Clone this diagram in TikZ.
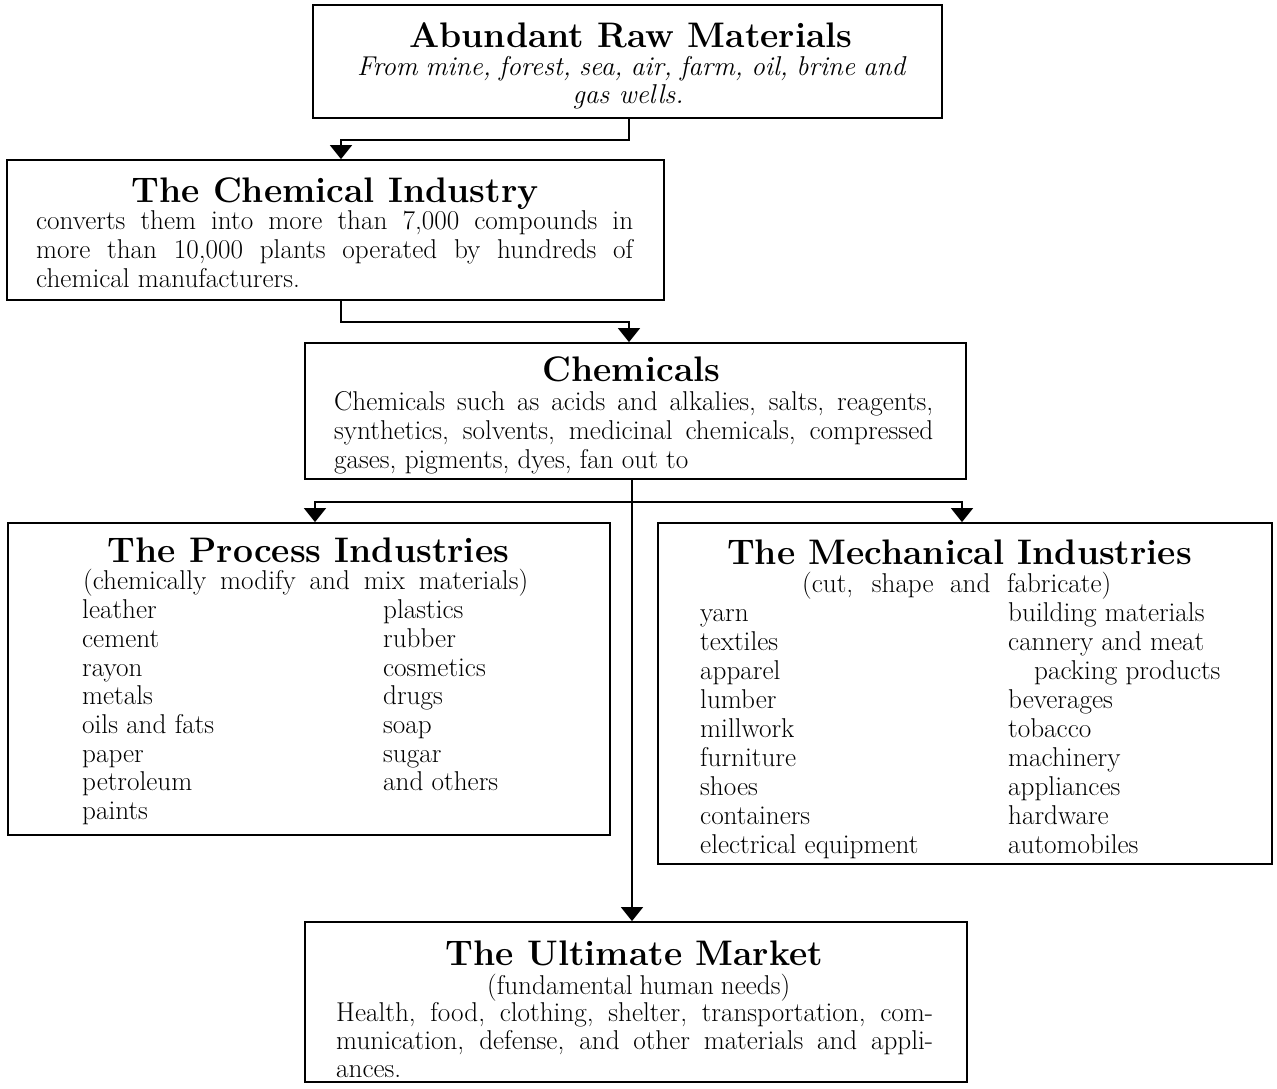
\documentclass[tikz,border=0pt]{standalone}
\usepackage{fontspec}
\usetikzlibrary{arrows.meta}
\newcommand\bodyfont{\fontsize{27.2}{29}\selectfont}
\newcommand\titlefont{\fontsize{35.5}{40}\selectfont\bfseries}
\newcommand\jline[2]{\makebox[#1pt][s]{#2}}
\begin{document}
\begin{tikzpicture}[x=1pt,y=-1pt,
  box/.style={draw=black, line width=1.8pt, inner sep=0pt, fill=none},
  conn/.style={draw=black, line width=1.5pt},
  arr/.style={-{Triangle[width=22pt,length=14pt]}},
  tx/.style={inner sep=0pt, anchor=base west, font=\bodyfont},
  tc/.style={inner sep=0pt, anchor=base, font=\bodyfont},
  ttl/.style={inner sep=0pt, anchor=base, font=\titlefont}]
\useasboundingbox[fill=white] (0,0) rectangle (1277,1088);

% boxes
\node[box, minimum width=629pt, minimum height=113pt] (raw) at (627.5,61.5) {};
\node[box, minimum width=657pt, minimum height=140pt] (chemind) at (335.5,230) {};
\node[box, minimum width=661pt, minimum height=136pt] (chems) at (635.5,411) {};
\node[box, minimum width=602pt, minimum height=312pt] (proc) at (309,679) {};
\node[box, minimum width=614pt, minimum height=341pt] (mech) at (965,693.5) {};
\node[box, minimum width=662pt, minimum height=160pt] (market) at (636,1002) {};

% connectors
\coordinate (j1) at (629,140);
\coordinate (j2) at (341,140);
\draw[conn,arr] (raw.south -| j1) -- (j1) -- (j2) -- (j2 |- chemind.north);
\coordinate (j3) at (341,322);
\coordinate (j4) at (629,322);
\draw[conn,arr] (chemind.south -| j3) -- (j3) -- (j4) -- (j4 |- chems.north);
\coordinate (j5) at (632,502);
\coordinate (bl) at (315,502);
\coordinate (br) at (962,502);
\draw[conn,arr] (chems.south -| j5) -- (j5 |- market.north);
\draw[conn,arr] (j5) -- (bl) -- (bl |- proc.north);
\draw[conn,arr] (j5) -- (br) -- (br |- mech.north);

% Abundant Raw Materials
\node[ttl] (rawt) at (631,47) {Abundant Raw Materials};
\node[tx, font=\bodyfont\itshape] (raw1) at (357,75) {\jline{548}{From mine, forest, sea, air, farm, oil, brine and}};
\node[tc, font=\bodyfont\itshape] (raw2) at (628,103) {gas wells.};

% Chemical Industry
\node[ttl] (cit) at (335,202) {The Chemical Industry};
\node[tx] (ci1) at (36,229) {\jline{597}{converts them into more than 7,000 compounds in}};
\node[tx] (ci2) at (36,258) {\jline{597}{more than 10,000 plants operated by hundreds of}};
\node[tx] (ci3) at (36,287) {chemical manufacturers.};

% Chemicals
\node[ttl] (cht) at (631.5,381) {Chemicals};
\node[tx] (ch1) at (334,410) {\jline{599}{Chemicals such as acids and alkalies, salts, reagents,}};
\node[tx] (ch2) at (334,439) {\jline{599}{synthetics, solvents, medicinal chemicals, compressed}};
\node[tx] (ch3) at (334,468) {gases, pigments, dyes, fan out to};

% Process Industries
\node[ttl] (pt) at (308.5,562) {The Process Industries};
\node[tx] (ps) at (83,589) {\jline{445}{(chemically modify and mix materials)}};
\node[tx] (pl1) at (82,618) {leather};
\node[tx] (pl2) at (82,647) {cement};
\node[tx] (pl3) at (82,676) {rayon};
\node[tx] (pl4) at (82,704) {metals};
\node[tx] (pl5) at (82,733) {oils and fats};
\node[tx] (pl6) at (82,762) {paper};
\node[tx] (pl7) at (82,790) {petroleum};
\node[tx] (pl8) at (82,819) {paints};
\node[tx] (pr1) at (383,618) {plastics};
\node[tx] (pr2) at (383,647) {rubber};
\node[tx] (pr3) at (383,676) {cosmetics};
\node[tx] (pr4) at (383,704) {drugs};
\node[tx] (pr5) at (383,733) {soap};
\node[tx] (pr6) at (383,762) {sugar};
\node[tx] (pr7) at (383,790) {and others};

% Mechanical Industries
\node[ttl] (mt) at (959.5,564) {The Mechanical Industries};
\node[tx] (ms) at (802,592) {\jline{309}{(cut, shape and fabricate)}};
\node[tx] (ml1) at (700,621) {yarn};
\node[tx] (ml2) at (700,650) {textiles};
\node[tx] (ml3) at (700,679) {apparel};
\node[tx] (ml4) at (700,708) {lumber};
\node[tx] (ml5) at (700,737) {millwork};
\node[tx] (ml6) at (700,766) {furniture};
\node[tx] (ml7) at (700,795) {shoes};
\node[tx] (ml8) at (700,824) {containers};
\node[tx] (ml9) at (700,853) {electrical equipment};
\node[tx] (mr1) at (1008,621) {building materials};
\node[tx] (mr2) at (1008,650) {cannery and meat};
\node[tx] (mr3) at (1034,679) {packing products};
\node[tx] (mr4) at (1008,708) {beverages};
\node[tx] (mr5) at (1008,737) {tobacco};
\node[tx] (mr6) at (1008,766) {machinery};
\node[tx] (mr7) at (1008,795) {appliances};
\node[tx] (mr8) at (1008,824) {hardware};
\node[tx] (mr9) at (1008,853) {automobiles};

% Ultimate Market
\node[ttl] (ut) at (634.5,965) {The Ultimate Market};
\node[tx] (us) at (487,994) {\jline{303}{(fundamental human needs)}};
\node[tx] (u1) at (336,1021) {\jline{597}{Health, food, clothing, shelter, transportation, com-}};
\node[tx] (u2) at (336,1049) {\jline{597}{munication, defense, and other materials and appli-}};
\node[tx] (u3) at (336,1077) {ances.};
\end{tikzpicture}
\end{document}
